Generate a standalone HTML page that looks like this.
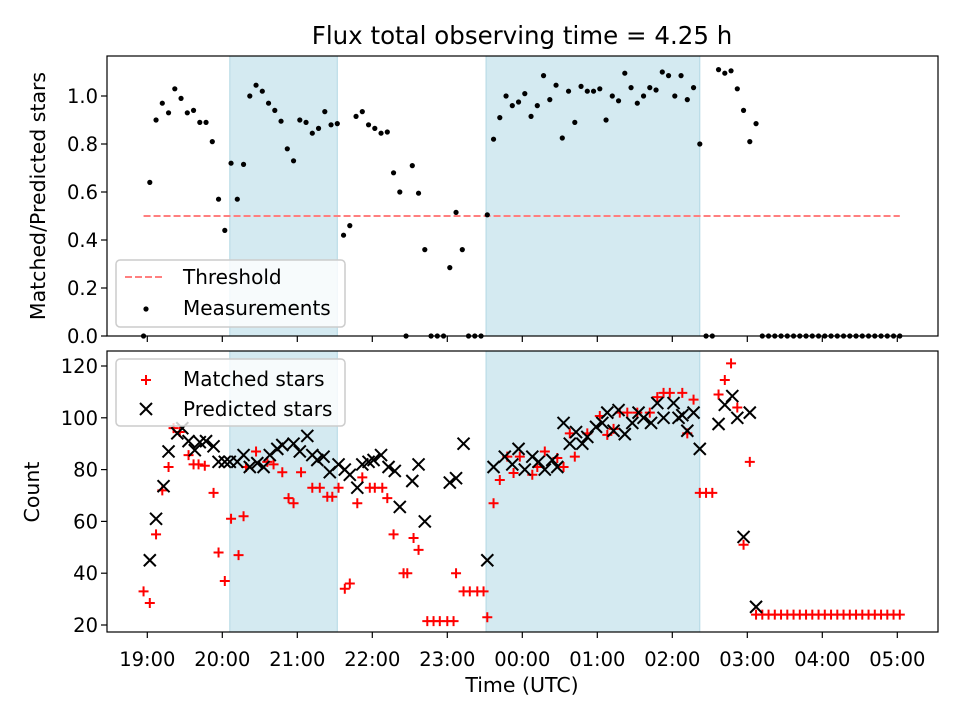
<!DOCTYPE html>
<html><head><meta charset="utf-8"><style>
body{margin:0;background:#fff}
svg text{font-family:"DejaVu Sans","Liberation Sans",sans-serif;fill:#000}
</style></head><body>
<svg id="c" width="960" height="720" xmlns="http://www.w3.org/2000/svg"></svg>
<script>
// ---- data ----
const topTimes = []; for (let i = 0; i < 122; i++) topTimes.push(-3 + 5 * i); // minutes after 19:00
const ratioValues = [0,.64,.90,.97,.93,1.03,.99,.93,.94,.89,.89,.81,.57,.44,.72,.57,.715,1.0,1.045,1.02,.97,.94,.895,.78,.73,.90,.89,.845,.865,.935,.88,.885,.42,.46,.915,.935,.88,.865,.845,.85,.68,.60,0,.71,.595,.36,0,0,0,.285,.515,.36,0,0,0,.505,
.82,.91,1.0,.96,.975,1.01,.915,.96,1.085,.985,1.045,.825,1.02,.89,1.04,1.02,1.02,1.03,.90,1.0,.98,1.095,1.035,.97,1.0,1.035,1.025,1.10,1.085,1.0,1.085,.985,1.035,.80,
0,0,1.11,1.095,1.105,1.03,.94,.81,.885,
0,0,0,0,0,0,0,0,0,0,0,0,0,0,0,0,0,0,0,0,0,0,0];
const thresholdValue = 0.5;
const thresholdRange = [-3, 602];
const matchedTimes = [-3,2,7,12,17,21,26,33,37,41,46,53,57,62,67,73,77,79,87,96,101,108,113,117,123,132,138,144,148,153,158,162,168,172,178,182,188,192,197,205,208,213,217,224,229,234,240,245,247,253,258,264,269,272,277,282,288,293,298,308,312,318,328,333,338,342,352,362,368,373,378,384,392,402,408,413,418,428,432,437,442,447,452,457,462,467,472,477,482,
487,492,497,502,507,512,517,522,527,532,537,542,547,552,557,562,567,572,577,582,587,592,597,602];
const matchedValues = [33,28.5,55,72,81,96,94.5,85.6,82,82,81.5,71,48,37,61,47,62,81,87,83,82,79,69,67,79,73,73,69.5,69.5,73,34,36,67,77,73,73,73,69,55,40,40,53.6,49,21.5,21.5,21.5,21.5,21.5,40,33,33,33,33,23,67,76,85,78.7,85,78,81,87,84.5,81,94,85,94,100.7,93.4,95.7,102,102,102,102,108,109.6,109.6,109.6,94,107,71,71,71,109,114.6,121,104,51,83,
24,24,24,24,24,24,24,24,24,24,24,24,24,24,24,24,24,24,24,24,24,24,24,24];
const predictedTimes = [2,7,13,17,24,28,33,38,42,47,53,57,62,66,72,77,82,88,93,98,104,108,117,122,128,132,136,141,146,153,158,162,168,172,177,181,187,193,198,202,212,217,222,242,247,253,272,277,286,292,297,302,308,313,318,324,328,333,338,343,348,352,359,364,368,373,377,382,388,393,397,403,408,413,421,425,428,432,437,442,457,462,468,472,477,482,487];
const predictedValues = [45,61,73.6,87,94,96,91,87.5,90.6,91,89,83,83,83,83,85.6,81,82.5,81,85.6,88,89.5,90,87,93,85.6,83.7,85,79,82,80,78,73,82,83,83.7,85.6,81,79.5,65.6,75.6,82,60,75,76.7,90,45,81,85,82,88,80,85,83,80,83.7,81,98,90,94.5,90,92.6,96.5,98,102,95,103,93.7,98,102,100,98,105.7,100,105.7,100,101,95,102,88,97.6,105,108.4,100,54,102,27];
const shadedSpans = [[66, 152], [271, 442]];
const xTickMinutes = [0,60,120,180,240,300,360,420,480,540,600];
const xTickLabels = ["19:00","20:00","21:00","22:00","23:00","00:00","01:00","02:00","03:00","04:00","05:00"];
const topYTicks = [0,0.2,0.4,0.6,0.8,1.0];
const botYTicks = [20,40,60,80,100,120];

// ---- layout ----
const L = 107, R = 938;
const T1 = 56, B1 = 336, T2 = 351, B2 = 632;
const xMin = -32.24, xMax = 632.56;
const x = m => L + (m - xMin) / (xMax - xMin) * (R - L);
const y1 = v => B1 - v * 240;
const y2 = v => 625 - (v - 20) * 2.59;
const NS = "http://www.w3.org/2000/svg";
const svg = document.getElementById('c');
function el(tag, attrs, parent) {
  const e = document.createElementNS(NS, tag);
  for (const k in attrs) e.setAttribute(k, attrs[k]);
  (parent || svg).appendChild(e);
  return e;
}

function panel(top, bottom, name) {
  const g = el('g', {});
  
  
  shadedSpans.forEach(s => {
    const r = el('rect', {x: x(s[0]), y: top, width: x(s[1]) - x(s[0]), height: bottom - top, fill: '#d4eaf1', stroke: '#b2d8e4', 'stroke-width': 1}, g);
    
    
  });
  return g;
}
function frame(top, bottom, name) {
  const f = el('rect', {x: L, y: top, width: R - L, height: bottom - top, fill: 'none', stroke: '#000', 'stroke-width': 1.2});
  
  
  xTickMinutes.forEach(m => {
    const t = el('line', {x1: x(m), x2: x(m), y1: bottom, y2: bottom + 6, stroke: '#000', 'stroke-width': 1.2});
    
    
  });
}

// ---- top panel ----
const gTop = panel(T1, B1, 'ratio-panel');
const thr = el('line', {x1: x(thresholdRange[0]), x2: x(thresholdRange[1]), y1: y1(thresholdValue), y2: y1(thresholdValue), stroke: '#ff7f7f', 'stroke-width': 2, 'stroke-dasharray': '7,3'}, gTop);


topTimes.forEach((t, i) => {
  const c = el('circle', {cx: x(t), cy: y1(ratioValues[i]), r: 2.6, fill: '#000'}, gTop);
  
  
});
frame(T1, B1, 'top-axes-frame');
topYTicks.forEach(v => {
  el('line', {x1: L - 6, x2: L, y1: y1(v), y2: y1(v), stroke: '#000', 'stroke-width': 1.2});
  const tx = el('text', {x: L - 9, y: y1(v) + 7, 'text-anchor': 'end', 'font-size': 19.5});
  tx.textContent = v.toFixed(1);
  
  
});

// ---- bottom panel ----
const gBot = panel(T2, B2, 'count-panel');
matchedTimes.forEach((t, i) => {
  const cx = x(t), cy = y2(matchedValues[i]);
  const p = el('path', {d: `M${cx-5},${cy}H${cx+5}M${cx},${cy-5}V${cy+5}`, stroke: '#ff0000', 'stroke-width': 2}, gBot);
  
  
});
predictedTimes.forEach((t, i) => {
  const cx = x(t), cy = y2(predictedValues[i]);
  const p = el('path', {d: `M${cx-6},${cy-6}L${cx+6},${cy+6}M${cx-6},${cy+6}L${cx+6},${cy-6}`, stroke: '#000', 'stroke-width': 2}, gBot);
  
  
});
frame(T2, B2, 'bottom-axes-frame');
botYTicks.forEach(v => {
  el('line', {x1: L - 6, x2: L, y1: y2(v), y2: y2(v), stroke: '#000', 'stroke-width': 1.2});
  const tx = el('text', {x: L - 9, y: y2(v) + 7, 'text-anchor': 'end', 'font-size': 19.5});
  tx.textContent = v;
  
  
});
xTickMinutes.forEach((m, i) => {
  const tx = el('text', {x: x(m), y: 666, 'text-anchor': 'middle', 'font-size': 19.5});
  tx.textContent = xTickLabels[i];
  
  
});

// ---- legends ----
function legendBox(yTop, name) {
  const r = el('rect', {x: 116, y: yTop, width: 229, height: 67, rx: 4, fill: 'rgba(255,255,255,0.8)', stroke: '#cccccc', 'stroke-width': 1.5});
  
  
}
legendBox(260, 'top-legend');
const lt1 = el('line', {x1: 125, x2: 165, y1: 277, y2: 277, stroke: '#ff7f7f', 'stroke-width': 2, 'stroke-dasharray': '7,3'});


const tl1 = el('text', {x: 183, y: 284, 'font-size': 20}); tl1.textContent = 'Threshold';


const lc = el('circle', {cx: 146, cy: 309, r: 2.6, fill: '#000'});


const tl2 = el('text', {x: 183, y: 315, 'font-size': 20}); tl2.textContent = 'Measurements';



legendBox(359, 'bottom-legend');
const lm = el('path', {d: 'M141,380H151M146,375V385', stroke: '#ff0000', 'stroke-width': 2});


const tl3 = el('text', {x: 183, y: 386, 'font-size': 20}); tl3.textContent = 'Matched stars';


const lp = el('path', {d: 'M140,403L152,415M140,415L152,403', stroke: '#000', 'stroke-width': 2});


const tl4 = el('text', {x: 183, y: 416, 'font-size': 20}); tl4.textContent = 'Predicted stars';



// ---- titles ----
const title = el('text', {x: 522, y: 44, 'text-anchor': 'middle', 'font-size': 24.5});
title.textContent = 'Flux total observing time = 4.25 h';


const yl1 = el('text', {x: 0, y: 0, 'text-anchor': 'middle', 'font-size': 20.5, transform: 'translate(45,196) rotate(-90)'});
yl1.textContent = 'Matched/Predicted stars';


const yl2 = el('text', {x: 0, y: 0, 'text-anchor': 'middle', 'font-size': 20.5, transform: 'translate(39,492) rotate(-90)'});
yl2.textContent = 'Count';


const xl = el('text', {x: 522, y: 692, 'text-anchor': 'middle', 'font-size': 20.5});
xl.textContent = 'Time (UTC)';


</script>
</body></html>
